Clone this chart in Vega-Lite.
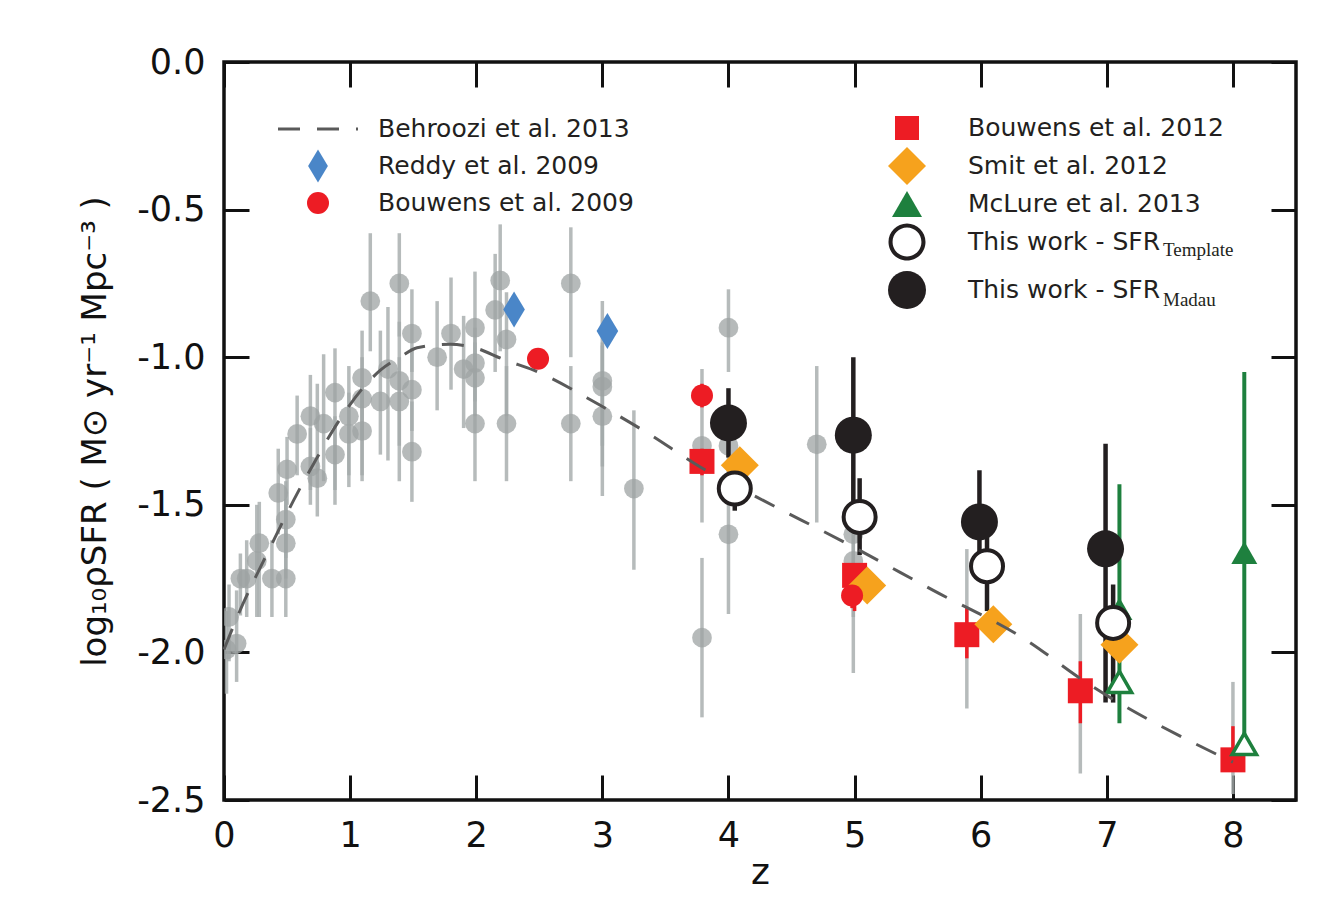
{
"$schema":"https://vega.github.io/schema/vega-lite/v6.json",
"width":1072,"height":738,
"autosize":{"type":"none"},
"padding":{"left":224,"top":62,"right":35,"bottom":118},
"background":"white",
"config":{
 "font":"DejaVu Sans",
 "view":{"stroke":"#111111","strokeWidth":3.5},
 "axis":{"domain":false,"grid":false,"ticks":true,"tickSize":-25,"tickWidth":3,"tickColor":"#111111","labelFont":"DejaVu Sans","labelFontSize":35,"labelColor":"#111111","titleFont":"DejaVu Sans","titleFontWeight":"normal","titleColor":"#111111","labelFlush":false,"labelOverlap":false},
 "legend":{"labelFont":"DejaVu Sans","labelFontSize":25,"labelColor":"#231f20","padding":0,"labelLimit":0,"orient":"none","direction":"vertical","titlePadding":0}
},
"datasets":{
 "gray":[
{"z":0.02,"y":-1.99,"lo":-2.14,"hi":-1.86},
{"z":0.04,"y":-1.88,"lo":-2.03,"hi":-1.77},
{"z":0.10,"y":-1.97,"lo":-2.10,"hi":-1.79},
{"z":0.13,"y":-1.75,"lo":-1.875,"hi":-1.665},
{"z":0.18,"y":-1.75,"lo":-1.88,"hi":-1.62},
{"z":0.26,"y":-1.69,"lo":-1.88,"hi":-1.50},
{"z":0.28,"y":-1.63,"lo":-1.88,"hi":-1.49},
{"z":0.38,"y":-1.75,"lo":-1.88,"hi":-1.62},
{"z":0.43,"y":-1.46,"lo":-1.60,"hi":-1.31},
{"z":0.49,"y":-1.75,"lo":-1.88,"hi":-1.48},
{"z":0.49,"y":-1.63,"lo":-1.75,"hi":-1.50},
{"z":0.49,"y":-1.55,"lo":-1.68,"hi":-1.42},
{"z":0.50,"y":-1.38,"lo":-1.50,"hi":-1.27},
{"z":0.58,"y":-1.26,"lo":-1.40,"hi":-1.13},
{"z":0.685,"y":-1.20,"lo":-1.45,"hi":-1.06},
{"z":0.685,"y":-1.37,"lo":-1.50,"hi":-1.24},
{"z":0.74,"y":-1.41,"lo":-1.54,"hi":-1.09},
{"z":0.79,"y":-1.225,"lo":-1.42,"hi":-0.99},
{"z":0.88,"y":-1.12,"lo":-1.50,"hi":-0.97},
{"z":0.88,"y":-1.33,"lo":-1.45,"hi":-1.20},
{"z":0.99,"y":-1.20,"lo":-1.44,"hi":-1.03},
{"z":0.99,"y":-1.26,"lo":-1.40,"hi":-1.12},
{"z":1.095,"y":-1.07,"lo":-1.42,"hi":-0.91},
{"z":1.095,"y":-1.14,"lo":-1.28,"hi":-1.00},
{"z":1.095,"y":-1.25,"lo":-1.40,"hi":-1.10},
{"z":1.16,"y":-0.81,"lo":-0.98,"hi":-0.58},
{"z":1.24,"y":-1.15,"lo":-1.33,"hi":-0.91},
{"z":1.30,"y":-1.04,"lo":-1.35,"hi":-0.83},
{"z":1.39,"y":-0.75,"lo":-0.93,"hi":-0.58},
{"z":1.39,"y":-1.08,"lo":-1.42,"hi":-0.88},
{"z":1.39,"y":-1.15,"lo":-1.30,"hi":-1.00},
{"z":1.49,"y":-0.92,"lo":-1.05,"hi":-0.77},
{"z":1.49,"y":-1.11,"lo":-1.25,"hi":-0.97},
{"z":1.49,"y":-1.32,"lo":-1.49,"hi":-1.15},
{"z":1.69,"y":-1.00,"lo":-1.18,"hi":-0.81},
{"z":1.80,"y":-0.92,"lo":-1.11,"hi":-0.73},
{"z":1.90,"y":-1.04,"lo":-1.24,"hi":-0.86},
{"z":1.99,"y":-0.90,"lo":-1.06,"hi":-0.71},
{"z":1.99,"y":-1.02,"lo":-1.15,"hi":-0.90},
{"z":1.99,"y":-1.07,"lo":-1.20,"hi":-0.95},
{"z":1.99,"y":-1.225,"lo":-1.42,"hi":-1.05},
{"z":2.15,"y":-0.84,"lo":-1.05,"hi":-0.65},
{"z":2.19,"y":-0.74,"lo":-0.98,"hi":-0.55},
{"z":2.24,"y":-0.94,"lo":-1.20,"hi":-0.78},
{"z":2.24,"y":-1.225,"lo":-1.42,"hi":-1.03},
{"z":2.75,"y":-0.75,"lo":-1.00,"hi":-0.56},
{"z":2.75,"y":-1.225,"lo":-1.42,"hi":-1.03},
{"z":3.00,"y":-1.08,"lo":-1.37,"hi":-0.81},
{"z":3.00,"y":-1.10,"lo":-1.30,"hi":-0.95},
{"z":3.00,"y":-1.20,"lo":-1.47,"hi":-0.96},
{"z":3.25,"y":-1.445,"lo":-1.72,"hi":-1.18},
{"z":3.79,"y":-1.30,"lo":-1.56,"hi":-1.04},
{"z":3.79,"y":-1.95,"lo":-2.22,"hi":-1.68},
{"z":4.00,"y":-0.90,"lo":-1.05,"hi":-0.77},
{"z":4.00,"y":-1.30,"lo":-1.45,"hi":-1.15},
{"z":4.00,"y":-1.60,"lo":-1.87,"hi":-1.35},
{"z":4.70,"y":-1.295,"lo":-1.56,"hi":-1.03},
{"z":4.99,"y":-1.60,"lo":-1.88,"hi":-1.40},
{"z":4.99,"y":-1.69,"lo":-2.07,"hi":-1.52},
{"z":5.89,"y":-1.94,"lo":-2.19,"hi":-1.65},
{"z":6.79,"y":-2.13,"lo":-2.41,"hi":-1.87},
{"z":8.00,"y":-2.36,"lo":-2.48,"hi":-2.10}
 ],
 "curve":[
{"series":"Behroozi et al. 2013","z":0.0,"y":-1.99},
{"series":"Behroozi et al. 2013","z":0.105,"y":-1.88},
{"series":"Behroozi et al. 2013","z":0.368,"y":-1.643},
{"series":"Behroozi et al. 2013","z":0.58,"y":-1.462},
{"series":"Behroozi et al. 2013","z":0.712,"y":-1.36},
{"series":"Behroozi et al. 2013","z":0.897,"y":-1.225},
{"series":"Behroozi et al. 2013","z":1.108,"y":-1.101},
{"series":"Behroozi et al. 2013","z":1.24,"y":-1.044},
{"series":"Behroozi et al. 2013","z":1.399,"y":-0.999},
{"series":"Behroozi et al. 2013","z":1.531,"y":-0.968},
{"series":"Behroozi et al. 2013","z":1.795,"y":-0.956},
{"series":"Behroozi et al. 2013","z":1.979,"y":-0.967},
{"series":"Behroozi et al. 2013","z":2.231,"y":-1.01},
{"series":"Behroozi et al. 2013","z":2.455,"y":-1.044},
{"series":"Behroozi et al. 2013","z":2.983,"y":-1.163},
{"series":"Behroozi et al. 2013","z":3.366,"y":-1.259},
{"series":"Behroozi et al. 2013","z":3.776,"y":-1.372},
{"series":"Behroozi et al. 2013","z":4.225,"y":-1.474},
{"series":"Behroozi et al. 2013","z":4.99,"y":-1.643},
{"series":"Behroozi et al. 2013","z":5.624,"y":-1.79},
{"series":"Behroozi et al. 2013","z":6.364,"y":-1.959},
{"series":"Behroozi et al. 2013","z":6.813,"y":-2.095},
{"series":"Behroozi et al. 2013","z":8.0,"y":-2.372}
 ],
 "pts":[
{"series":"Reddy et al. 2009","z":2.30,"y":-0.838},
{"series":"Reddy et al. 2009","z":3.04,"y":-0.911},
{"series":"Bouwens et al. 2009","z":2.49,"y":-1.005},
{"series":"Bouwens et al. 2009","z":3.79,"y":-1.13,"lo":-1.17,"hi":-1.09},
{"series":"Bouwens et al. 2009","z":4.98,"y":-1.807,"lo":-1.85,"hi":-1.77},
{"series":"Bouwens et al. 2012","z":3.79,"y":-1.353,"lo":-1.40,"hi":-1.31},
{"series":"Bouwens et al. 2012","z":5.00,"y":-1.739,"lo":-1.86,"hi":-1.70},
{"series":"Bouwens et al. 2012","z":5.89,"y":-1.94,"lo":-2.02,"hi":-1.85},
{"series":"Bouwens et al. 2012","z":6.79,"y":-2.13,"lo":-2.24,"hi":-2.03},
{"series":"Bouwens et al. 2012","z":8.00,"y":-2.364,"lo":-2.40,"hi":-2.25},
{"series":"Smit et al. 2012","z":4.09,"y":-1.366},
{"series":"Smit et al. 2012","z":5.10,"y":-1.773},
{"series":"Smit et al. 2012","z":6.10,"y":-1.905},
{"series":"Smit et al. 2012","z":7.10,"y":-1.974},
{"series":"McLure et al. 2013","z":7.10,"y":-1.852,"lo":-2.24,"hi":-1.43},
{"series":"McLure et al. 2013","z":8.09,"y":-1.662,"lo":-2.31,"hi":-1.05},
{"series":"McLure et al. 2013 lower","z":7.10,"y":-2.10},
{"series":"McLure et al. 2013 lower","z":8.09,"y":-2.31},
{"series":"This work - SFR Template","z":4.05,"y":-1.445,"lo":-1.52,"hi":-1.40},
{"series":"This work - SFR Template","z":5.04,"y":-1.541,"lo":-1.67,"hi":-1.41},
{"series":"This work - SFR Template","z":6.05,"y":-1.708,"lo":-1.86,"hi":-1.60},
{"series":"This work - SFR Template","z":7.05,"y":-1.90,"lo":-2.17,"hi":-1.77},
{"series":"This work - SFR Madau","z":4.00,"y":-1.223,"lo":-1.34,"hi":-1.105},
{"series":"This work - SFR Madau","z":4.99,"y":-1.264,"lo":-1.49,"hi":-1.00},
{"series":"This work - SFR Madau","z":5.99,"y":-1.558,"lo":-1.70,"hi":-1.383},
{"series":"This work - SFR Madau","z":6.99,"y":-1.649,"lo":-2.17,"hi":-1.293}
 ]
},
"layer":[
 {"data":{"name":"gray"},
  "mark":{"type":"rule","stroke":"#a4aaaa","strokeWidth":3.5,"opacity":0.8,"clip":true},
  "encoding":{
   "x":{"field":"z","type":"quantitative","scale":{"domain":[0,8.5],"nice":false,"zero":false},
        "axis":{"orient":"bottom","values":[0,1,2,3,4,5,6,7,8],"format":"d","labelPadding":43,"title":"z","titleFontSize":36,"titlePadding":2}},
   "y":{"field":"lo","type":"quantitative","scale":{"domain":[-2.5,0],"nice":false,"zero":false},
        "axis":{"orient":"left","values":[-2.5,-2,-1.5,-1,-0.5,0],"labelExpr":"datum.value < 0 ? '-' + format(-datum.value, '.1f') : format(datum.value, '.1f')","labelPadding":44,"title":"log₁₀ρSFR ( M⊙ yr⁻¹ Mpc⁻³ )","titleFontSize":34,"titlePadding":24}},
   "y2":{"field":"hi"}}},
 {"data":{"name":"gray"},
  "mark":{"type":"circle","size":390,"color":"#9ea3a3","opacity":0.75,"clip":true},
  "encoding":{
   "x":{"field":"z","type":"quantitative","scale":{"domain":[0,8.5],"nice":false,"zero":false},
        "axis":{"orient":"top","values":[0,1,2,3,4,5,6,7,8],"labels":false,"title":null}},
   "y":{"field":"y","type":"quantitative","scale":{"domain":[-2.5,0],"nice":false,"zero":false},
        "axis":{"orient":"right","values":[-2.5,-2,-1.5,-1,-0.5,0],"labels":false,"title":null}}}},
 {"data":{"name":"pts"},
  "transform":[{"filter":{"field":"series","oneOf":["Bouwens et al. 2009","Bouwens et al. 2012"]}},{"filter":"isValid(datum.lo)"}],
  "mark":{"type":"rule","stroke":"#ed1c24","strokeWidth":3.5},
  "encoding":{"x":{"field":"z","type":"quantitative","axis":null},"y":{"field":"lo","type":"quantitative","axis":null},"y2":{"field":"hi"}}},
 {"data":{"name":"pts"},
  "transform":[{"filter":{"field":"series","equal":"McLure et al. 2013"}}],
  "mark":{"type":"rule","stroke":"#1e803e","strokeWidth":4},
  "encoding":{"x":{"field":"z","type":"quantitative","axis":null},"y":{"field":"lo","type":"quantitative","axis":null},"y2":{"field":"hi"}}},
 {"data":{"name":"pts"},
  "transform":[{"filter":{"field":"series","oneOf":["This work - SFR Template","This work - SFR Madau"]}}],
  "mark":{"type":"rule","stroke":"#231f20","strokeWidth":4.5},
  "encoding":{"x":{"field":"z","type":"quantitative","axis":null},"y":{"field":"lo","type":"quantitative","axis":null},"y2":{"field":"hi"}}},
 {"data":{"name":"pts"},
  "transform":[{"filter":{"field":"series","equal":"Bouwens et al. 2012"}}],
  "mark":{"type":"point","filled":true,"color":"#ed1c24","opacity":1,"strokeWidth":0,"size":625},
  "encoding":{"x":{"field":"z","type":"quantitative","axis":null},"y":{"field":"y","type":"quantitative","axis":null},
   "shape":{"field":"series","type":"nominal","scale":{"domain":["Bouwens et al. 2012"],"range":["square"]},
     "legend":{"title":null,"legendX":670.5,"legendY":53.5,"labelOffset":48.5,"symbolSize":576,"symbolStrokeWidth":0,"symbolFillColor":"#ed1c24","symbolOpacity":1}}}},
 {"data":{"name":"pts"},
  "transform":[{"filter":{"field":"series","equal":"Smit et al. 2012"}}],
  "mark":{"type":"point","filled":true,"color":"#f6a21d","opacity":1,"strokeWidth":0,"size":1444},
  "encoding":{"x":{"field":"z","type":"quantitative","axis":null},"y":{"field":"y","type":"quantitative","axis":null},
   "shape":{"field":"series","type":"nominal","scale":{"domain":["Smit et al. 2012"],"range":["diamond"]},
     "legend":{"title":null,"legendX":664,"legendY":85,"labelOffset":42,"symbolSize":1444,"symbolStrokeWidth":0,"symbolFillColor":"#f6a21d","symbolOpacity":1}}}},
 {"data":{"name":"pts"},
  "transform":[{"filter":{"field":"series","equal":"Reddy et al. 2009"}}],
  "mark":{"type":"point","filled":true,"color":"#4a86c8","opacity":1,"strokeWidth":0,"size":1296},
  "encoding":{"x":{"field":"z","type":"quantitative","axis":null},"y":{"field":"y","type":"quantitative","axis":null},
   "shape":{"field":"series","type":"nominal","scale":{"domain":["Reddy et al. 2009"],"range":["M0,-1L0.6,0L0,1L-0.6,0Z"]},
     "legend":{"title":null,"legendX":77.5,"legendY":87.5,"labelOffset":43.5,"symbolSize":1089,"symbolStrokeWidth":0,"symbolFillColor":"#4a86c8","symbolOpacity":1}}}},
 {"data":{"name":"pts"},
  "transform":[{"filter":{"field":"series","equal":"Bouwens et al. 2009"}}],
  "mark":{"type":"point","filled":true,"color":"#ed1c24","opacity":1,"strokeWidth":0,"size":484},
  "encoding":{"x":{"field":"z","type":"quantitative","axis":null},"y":{"field":"y","type":"quantitative","axis":null},
   "shape":{"field":"series","type":"nominal","scale":{"domain":["Bouwens et al. 2009"],"range":["circle"]},
     "legend":{"title":null,"legendX":81.5,"legendY":128.5,"labelOffset":47.5,"symbolSize":484,"symbolStrokeWidth":0,"symbolFillColor":"#ed1c24","symbolOpacity":1}}}},
 {"data":{"name":"pts"},
  "transform":[{"filter":{"field":"series","equal":"McLure et al. 2013"}}],
  "mark":{"type":"point","filled":true,"color":"#1e803e","opacity":1,"strokeWidth":0,"size":676},
  "encoding":{"x":{"field":"z","type":"quantitative","axis":null},"y":{"field":"y","type":"quantitative","axis":null},
   "shape":{"field":"series","type":"nominal","scale":{"domain":["McLure et al. 2013"],"range":["triangle-up"]},
     "legend":{"title":null,"legendX":668,"legendY":127,"labelOffset":46,"symbolSize":900,"symbolStrokeWidth":0,"symbolFillColor":"#1e803e","symbolOpacity":1}}}},
 {"data":{"name":"pts"},
  "transform":[{"filter":{"field":"series","equal":"McLure et al. 2013 lower"}}],
  "mark":{"type":"point","shape":"triangle-up","filled":true,"fill":"#ffffff","stroke":"#1e803e","opacity":1,"strokeWidth":3.5,"size":600},
  "encoding":{"x":{"field":"z","type":"quantitative","axis":null},"y":{"field":"y","type":"quantitative","axis":null}}},
 {"data":{"name":"curve"},
  "mark":{"type":"line","stroke":"#5a5a5a","strokeWidth":3,"interpolate":"monotone"},
  "encoding":{
   "x":{"field":"z","type":"quantitative","axis":null},
   "y":{"field":"y","type":"quantitative","axis":null},
   "strokeDash":{"field":"series","type":"nominal","scale":{"domain":["Behroozi et al. 2013"],"range":[[22,17]]},
     "legend":{"title":null,"legendX":52.5,"legendY":25.5,"symbolType":"stroke","symbolSize":6400,"symbolStrokeColor":"#5a5a5a","symbolStrokeWidth":3,"labelOffset":18.5}}}},
 {"data":{"name":"pts"},
  "transform":[{"filter":{"field":"series","equal":"This work - SFR Template"}}],
  "mark":{"type":"point","shape":"circle","filled":true,"fill":"#ffffff","stroke":"#231f20","opacity":1,"strokeWidth":4,"size":1024},
  "encoding":{"x":{"field":"z","type":"quantitative","axis":null},"y":{"field":"y","type":"quantitative","axis":null}}},
 {"data":{"name":"pts"},
  "transform":[{"filter":{"field":"series","equal":"This work - SFR Madau"}}],
  "mark":{"type":"point","filled":true,"color":"#231f20","opacity":1,"strokeWidth":0,"size":1369},
  "encoding":{"x":{"field":"z","type":"quantitative","axis":null},"y":{"field":"y","type":"quantitative","axis":null},
   "shape":{"field":"series","type":"nominal","scale":{"domain":["This work - SFR Madau"],"range":["circle"]},
     "legend":{"title":null,"legendX":664,"legendY":209,"labelOffset":42,"symbolSize":1444,"symbolStrokeWidth":0,"symbolFillColor":"#231f20","symbolOpacity":1,"labelExpr":"'This work - SFR'"}}}},
 {"data":{"name":"pts"},
  "transform":[{"filter":{"field":"series","equal":"This work - SFR Template"}}],
  "mark":{"type":"point","filled":true,"color":"#231f20","opacity":0,"strokeWidth":0,"size":1},
  "encoding":{"x":{"field":"z","type":"quantitative","axis":null},"y":{"field":"y","type":"quantitative","axis":null},
   "shape":{"field":"series","type":"nominal","scale":{"domain":["This work - SFR Template"],"range":["M1,0A1,1,0,1,1,-1,0A1,1,0,1,1,1,0ZM0.78,0A0.78,0.78,0,1,0,-0.78,0A0.78,0.78,0,1,0,0.78,0Z"]},
     "legend":{"title":null,"legendX":664.5,"legendY":161.5,"labelOffset":42.5,"symbolSize":1369,"symbolStrokeWidth":0,"symbolFillColor":"#231f20","symbolOpacity":1,"labelExpr":"'This work - SFR'"}}}},
 {"data":{"name":"pts"},
  "transform":[{"filter":{"field":"series","equal":"This work - SFR Template"}}],
  "mark":{"type":"point","filled":true,"opacity":0,"strokeWidth":0,"size":1},
  "encoding":{"x":{"field":"z","type":"quantitative","axis":null},"y":{"field":"y","type":"quantitative","axis":null},
   "shape":{"field":"series","type":"nominal","scale":{"domain":["This work - SFR Template"],"range":["circle"]},
     "legend":{"title":null,"legendX":920,"legendY":178.5,"labelOffset":0,"symbolSize":1,"symbolStrokeWidth":0,"symbolOpacity":0,"labelFont":"Liberation Serif","labelFontSize":19,"labelExpr":"'Template'"}}}},
 {"data":{"name":"pts"},
  "transform":[{"filter":{"field":"series","equal":"This work - SFR Madau"}}],
  "mark":{"type":"point","filled":true,"opacity":0,"strokeWidth":0,"size":1},
  "encoding":{"x":{"field":"z","type":"quantitative","axis":null},"y":{"field":"y","type":"quantitative","axis":null},
   "shape":{"field":"series","type":"nominal","scale":{"domain":["This work - SFR Madau"],"range":["circle"]},
     "legend":{"title":null,"legendX":920,"legendY":228.5,"labelOffset":0,"symbolSize":1,"symbolStrokeWidth":0,"symbolOpacity":0,"labelFont":"Liberation Serif","labelFontSize":19,"labelExpr":"'Madau'"}}}}
],
"resolve":{"scale":{"shape":"independent","strokeDash":"independent"},"axis":{"x":"independent","y":"independent"}}
}
